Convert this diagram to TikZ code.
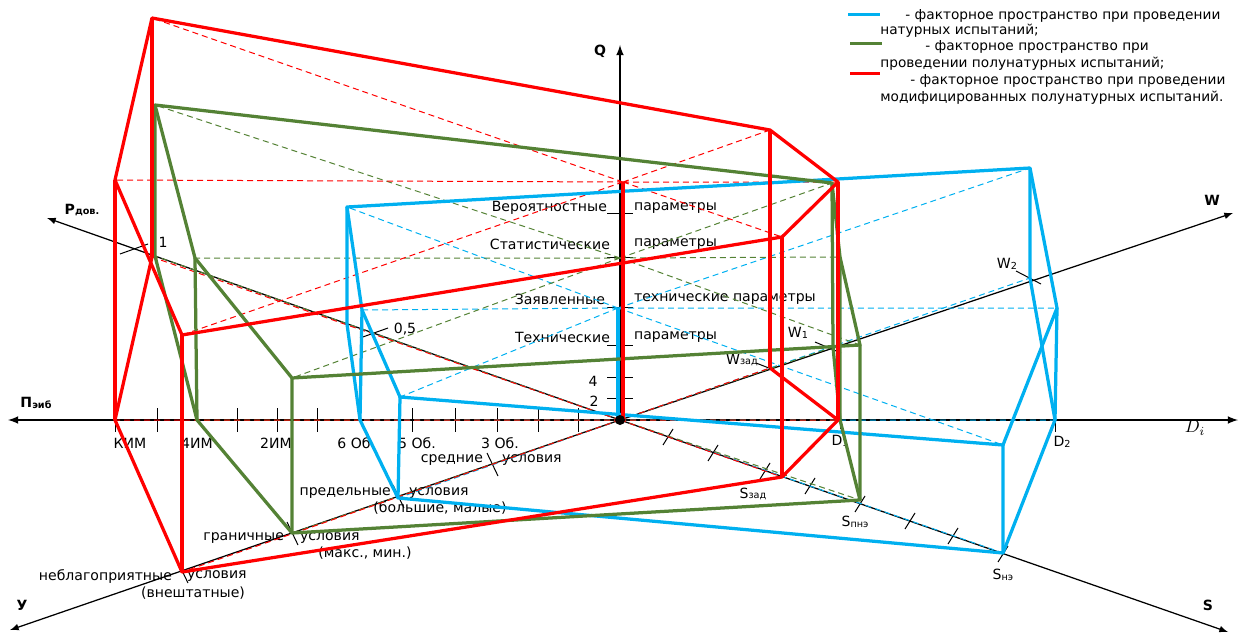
\documentclass[tikz,border=0pt]{standalone}
\usepackage{fontspec}
\setmainfont{DejaVu Sans}

\definecolor{natblue}{RGB}{0,176,240}
\definecolor{halfgreen}{RGB}{84,130,53}
\definecolor{modred}{RGB}{255,0,0}

% small lowered index letters (Wзад, Sпнэ, D1 ...)
\newcommand{\smallidx}[1]{\raisebox{-.4pt}{\fontsize{5.5}{6}\selectfont #1}}

\tikzset{
  axisline/.style={line width=.35mm},
  solidline/.style={line width=.65mm, line join=round},
  hiddenline/.style={line width=.2mm, dash pattern=on 1.2mm off .8mm},
  tickline/.style={line width=.2mm},
  txt/.style={font=\fontsize{8}{9.6}\selectfont, inner sep=1pt},
  legtxt/.style={font=\fontsize{7.8}{9}\selectfont, inner sep=0pt, anchor=west},
  axlabel/.style={font=\bfseries\fontsize{8}{9.6}\selectfont, inner sep=1pt},
}

\begin{document}
\begin{tikzpicture}[x=0.02cm,y=-0.02cm]
\useasboundingbox (0,0) rectangle (1243,635);

% axes
\coordinate (O) at (620,420);
\coordinate (Pi) at (8,420);
\coordinate (Di) at (1238,420);
\coordinate (Qax) at (620,45);
\coordinate (Pd) at (47,218);
\coordinate (Wax) at (1233,213);
\coordinate (Sax) at (1228,632);
\coordinate (Uax) at (10,630);

\draw[axisline,-latex] (O)--(Pi);
\draw[axisline,-latex] (O)--(Di);
\draw[axisline,-latex] (O)--(Qax);
\draw[line width=.25mm,-latex] (O)--(Pd);
\draw[line width=.25mm,-latex] (O)--(Wax);
\draw[line width=.25mm,-latex] (O)--(Sax);
\draw[line width=.25mm,-latex] (O)--(Uax);

\node[axlabel] (qlbl) at (600,51) {Q};
\node[axlabel] (pdlbl) at (82,210) {Р\smallidx{дов.}};
\node[axlabel] (pilbl) at (36,403) {П\smallidx{эиб}};
\node[axlabel] (wlbl) at (1212,200) {W};
\node[axlabel] (slbl) at (1208,605) {S};
\node[axlabel] (ulbl) at (22,605) {У};
\node (dlbl) at (1195,428) {$D_i$};

% ticks on the axes
\draw[tickline] (157,408)--(157,432) (237,408)--(237,432) (277,408)--(277,432)
  (317,408)--(317,432) (412,408)--(412,432) (455,408)--(455,432)
  (497,408)--(497,432) (538,408)--(538,432) (578,408)--(578,432)
  (115,420)--(115,432) (840,420)--(840,429) (1055,408)--(1055,432);
\draw[tickline] (607,213)--(633,213) (607,257)--(633,257) (607,307)--(633,307)
  (607,345)--(633,345) (607,377)--(633,377) (607,398)--(633,398);
\draw[tickline] (663,445)--(673,429) (708,461)--(718,445) (760,479)--(770,463)
  (805,494)--(815,478) (855,512)--(865,496) (905,529)--(915,513)
  (948,544)--(958,528) (998,562)--(1008,546);
\draw[tickline] (487,453)--(498,476) (393,485)--(404,508)
  (287,522)--(298,545) (177,560)--(188,583);
\draw[tickline] (1016,271)--(1041,284) (815,342)--(841,353) (756,363)--(774,370);
\draw[tickline] (120,254)--(148,244) (360,338)--(388,328);

\node[txt] (one) at (163,242) {1};
\node[txt] (half) at (405,329) {0,5};

\node[txt] (kim) at (130,443) {КИМ};
\node[txt] (im4) at (197,443) {4ИМ};
\node[txt] (im2) at (276,443) {2ИМ};
\node[txt] (ob6) at (354,443) {6 Об};
\node[txt] (ob5) at (417,443) {5 Об.};
\node[txt] (ob3) at (500,443) {3 Об.};

\node[txt] (w2) at (1007,264) {W\smallidx{2}};
\node[txt] (w1) at (798,333) {W\smallidx{1}};
\node[txt] (wz) at (742,360) {W\smallidx{зад}};
\node[txt] (d1) at (840,441) {D\smallidx{1}};
\node[txt] (d2) at (1062,442) {D\smallidx{2}};
\node[txt] (sz) at (753,494) {S\smallidx{зад}};
\node[txt] (spn) at (855,522) {S\smallidx{пнэ}};
\node[txt] (sn) at (1003,575) {S\smallidx{нэ}};

% parameter levels along Q
\node[txt,anchor=east] (ver1) at (609,208) {Вероятностные};
\node[txt,anchor=west] (ver2) at (632,208) {параметры};
\node[txt,anchor=east] (st1) at (612,244) {Статистические};
\node[txt,anchor=west] (st2) at (632,244) {параметры};
\node[txt,anchor=east] (za1) at (607,299) {Заявленные};
\node[txt,anchor=west] (za2) at (632,299) {технические параметры};
\node[txt,anchor=east] (te1) at (612,337) {Технические};
\node[txt,anchor=west] (te2) at (632,337) {параметры};
\node[txt] (n4) at (593,381) {4};
\node[txt] (n2) at (594,401) {2};

% conditions along У
\node[txt,anchor=east] (sr1) at (485,460) {средние};
\node[txt,anchor=west] (sr2) at (500,460) {условия};
\node[txt,anchor=east] (pr1) at (393,493) {предельные};
\node[txt,anchor=west] (pr2) at (407,493) {условия};
\node[txt] (pr3) at (440,508) {(большие, малые)};
\node[txt,anchor=east] (gr1) at (286,538) {граничные};
\node[txt,anchor=west] (gr2) at (298,538) {условия};
\node[txt] (gr3) at (365,553) {(макс., мин.)};
\node[txt,anchor=east] (nb1) at (174,576) {неблагоприятные};
\node[txt,anchor=west] (nb2) at (185,576) {условия};
\node[txt] (nb3) at (193,593) {(внештатные)};

% natural tests
\coordinate (bP) at (347,324);  \coordinate (bPt) at (347,207);
\coordinate (bK) at (360,420);  \coordinate (bKt) at (362,310);
\coordinate (bU) at (398,498);  \coordinate (bUt) at (400,397);
\coordinate (bS) at (1003,553); \coordinate (bSt) at (1003,445);
\coordinate (bD) at (1055,420); \coordinate (bDt) at (1057,308);
\coordinate (bW) at (1030,278); \coordinate (bWt) at (1030,168);
\coordinate (bQ) at (618,308);

% semi-natural tests
\coordinate (gP) at (155,256);  \coordinate (gPt) at (155,105);
\coordinate (gK) at (197,420);  \coordinate (gKt) at (195,258);
\coordinate (gU) at (292,533);  \coordinate (gUt) at (292,378);
\coordinate (gS) at (860,500);  \coordinate (gSt) at (860,345);
\coordinate (gD) at (840,420);  \coordinate (gDt) at (840,257);
\coordinate (gW) at (833,347);  \coordinate (gWt) at (832,183);
\coordinate (gQ) at (620,258);

% modified semi-natural tests
\coordinate (rP) at (152,257);  \coordinate (rPt) at (152,18);
\coordinate (rK) at (115,420);  \coordinate (rKt) at (115,180);
\coordinate (rU) at (182,572);  \coordinate (rUt) at (182,335);
\coordinate (rS) at (782,477);  \coordinate (rSt) at (782,237);
\coordinate (rD) at (838,420);  \coordinate (rDt) at (838,182);
\coordinate (rW) at (770,368);  \coordinate (rWt) at (770,130);
\coordinate (rQ) at (623,182);

% hidden lines
\draw[natblue,hiddenline] (bQ)--(bPt) (bQ)--(bKt) (bQ)--(bUt) (bQ)--(bSt) (bQ)--(bDt) (bQ)--(bWt);
\draw[natblue,hiddenline] (O)--(bP) (O)--(bK) (O)--(bU) (O)--(bS) (O)--(bD) (O)--(bW);
\draw[halfgreen,hiddenline] (gQ)--(gPt) (gQ)--(gKt) (gQ)--(gUt) (gQ)--(gSt) (gQ)--(gDt) (gQ)--(gWt);
\draw[halfgreen,hiddenline] (O)--(gP) (O)--(gK) (O)--(gU) (O)--(gS) (O)--(gD) (O)--(gW);
\draw[modred,hiddenline] (rQ)--(rPt) (rQ)--(rKt) (rQ)--(rUt) (rQ)--(rSt) (rQ)--(rDt) (rQ)--(rWt);
\draw[modred,hiddenline] (O)--(rP) (O)--(rK) (O)--(rU) (O)--(rS) (O)--(rD) (O)--(rW);

% blue
\draw[natblue,solidline] (bPt)--(bKt)--(bUt)--(bSt)--(bDt)--(bWt)--cycle;
\draw[natblue,solidline] (bP)--(bK)--(bU)--(bS)--(bD)--(bW);
\draw[natblue,solidline] (bP)--(bPt) (bK)--(bKt) (bU)--(bUt) (bS)--(bSt) (bD)--(bDt) (bW)--(bWt);
\draw[natblue,solidline] (bQ)--(bQ|-O);

% green
\draw[halfgreen,solidline] (gPt)--(gKt)--(gUt)--(gSt)--(gDt)--(gWt)--cycle;
\draw[halfgreen,solidline] (gP)--(gK)--(gU)--(gS)--(gD)--(gW);
\draw[halfgreen,solidline] (gP)--(gPt) (gK)--(gKt) (gU)--(gUt) (gS)--(gSt) (gD)--(gDt) (gW)--(gWt);

% red
\draw[modred,solidline] (rPt)--(rKt)--(rUt)--(rSt)--(rDt)--(rWt)--cycle;
\draw[modred,solidline] (rP)--(rK)--(rU)--(rS)--(rD)--(rW);
\draw[modred,solidline] (rP)--(rPt) (rK)--(rKt) (rU)--(rUt) (rS)--(rSt) (rD)--(rDt) (rW)--(rWt);
\draw[modred,solidline] (rQ)--(rQ|-O);

\fill (O) circle (5);

% legend
\draw[natblue,line width=.6mm] (848,15)--(880,15);
\draw[halfgreen,line width=.6mm] (850,44)--(882,44);
\draw[modred,line width=.6mm] (850,74)--(880,74);
\node[legtxt] (l1) at (905,16) {- факторное пространство при проведении};
\node[legtxt] (l2) at (880,31) {натурных испытаний;};
\node[legtxt] (l3) at (925,47) {- факторное пространство при};
\node[legtxt] (l4) at (880,64) {проведении полунатурных испытаний;};
\node[legtxt] (l5) at (910,81) {- факторное пространство при проведении};
\node[legtxt] (l6) at (880,98) {модифицированных полунатурных испытаний.};

\end{tikzpicture}
\end{document}
